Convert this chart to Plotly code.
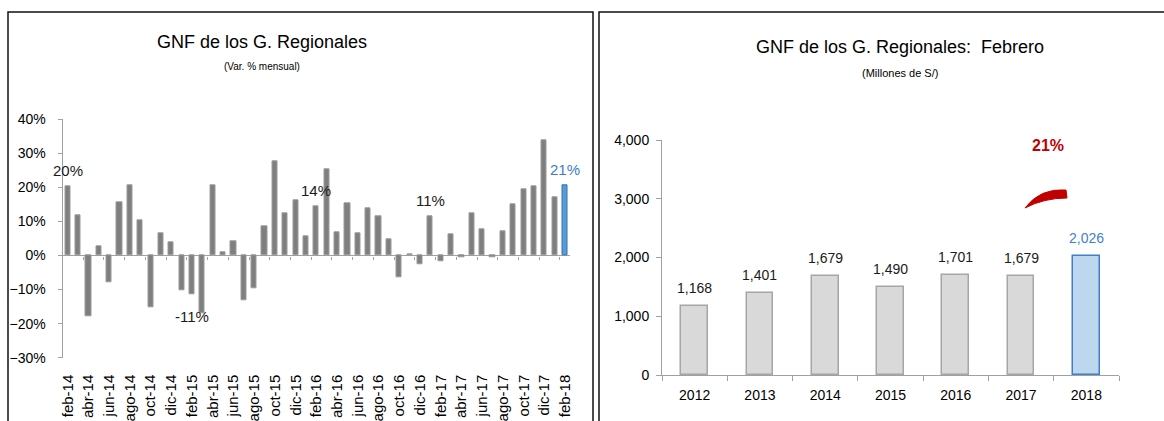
import plotly.graph_objects as go

W, H = 1164, 421

# ---------------- data ----------------
months = [
    "feb-14", "mar-14", "abr-14", "may-14", "jun-14", "jul-14", "ago-14", "sep-14", "oct-14", "nov-14", "dic-14",
    "ene-15", "feb-15", "mar-15", "abr-15", "may-15", "jun-15", "jul-15", "ago-15", "sep-15", "oct-15", "nov-15", "dic-15",
    "ene-16", "feb-16", "mar-16", "abr-16", "may-16", "jun-16", "jul-16", "ago-16", "sep-16", "oct-16", "nov-16", "dic-16",
    "ene-17", "feb-17", "mar-17", "abr-17", "may-17", "jun-17", "jul-17", "ago-17", "sep-17", "oct-17", "nov-17", "dic-17",
    "ene-18", "feb-18",
]
mom_var = [
    20.2, 11.9, -17.9, 2.6, -7.8, 15.7, 20.7, 10.3, -15.3, 6.5, 3.9,
    -10.3, -11.3, -17.0, 20.7, 0.9, 4.3, -13.0, -9.6, 8.5, 27.6, 12.4, 16.1,
    5.6, 14.4, 25.4, 6.8, 15.2, 6.5, 14.0, 11.4, 4.7, -6.5, 0.4, -2.7,
    11.4, -1.6, 6.1, -0.6, 12.4, 7.7, -0.6, 7.2, 14.9, 19.5, 20.4, 33.9,
    17.0, 20.7,
]
month_ticks = months[::2]
highlight_month = "feb-18"
label_months = ["feb-14", "feb-15", "feb-16", "ene-17", "feb-18"]
label_texts = ["20%", "-11%", "14%", "11%", "21%"]

years = ["2012", "2013", "2014", "2015", "2016", "2017", "2018"]
feb_values = [1168, 1401, 1679, 1490, 1701, 1679, 2026]
highlight_year = "2018"
growth_text = "21%"

# ---------------- styles ----------------
ARIAL = "Liberation Sans, Arial, sans-serif"
GRAY_BAR = "#7f7f7f"
BLUE_BAR = "#5b9bd5"
AXIS_GRAY = "#a0a0a0"

fig = go.Figure()

fig.add_trace(go.Bar(
    x=months, y=mom_var, xaxis="x", yaxis="y",
    width=0.5,
    marker=dict(
        color=[BLUE_BAR if m == highlight_month else GRAY_BAR for m in months],
        line=dict(color=["#2e75b6" if m == highlight_month else "#9a9a9a" for m in months], width=1),
    ),
    hoverinfo="skip", showlegend=False,
))

fig.add_trace(go.Bar(
    x=years, y=feb_values, xaxis="x2", yaxis="y2",
    width=0.41,
    marker=dict(
        color=["#bdd7ee" if y == highlight_year else "#d9d9d9" for y in years],
        line=dict(color=["#3f7fc6" if y == highlight_year else "#a6a6a6" for y in years], width=1.5),
    ),
    hoverinfo="skip", showlegend=False,
))

# empty trace so the overlay axis carrying the zero-line tick marks is drawn
fig.add_trace(go.Scatter(x=[None], y=[None], xaxis="x3", yaxis="y", mode="markers",
                         hoverinfo="skip", showlegend=False))

annotations = []
# left data labels
for m, t in zip(label_months, label_texts):
    i = months.index(m)
    v = mom_var[i]
    annotations.append(dict(
        x=i, y=v, xref="x", yref="y", text=t, showarrow=False,
        yshift=16 if v > 0 else -22,
        font=dict(family=ARIAL, size=15, color="#3b7dc8" if m == highlight_month else "#1a1a1a"),
    ))
# right data labels
for i, (yr, v) in enumerate(zip(years, feb_values)):
    annotations.append(dict(
        x=i, y=v, xref="x2", yref="y2", text=f"{v:,}", showarrow=False,
        yshift=18,
        font=dict(family=ARIAL, size=14, color="#3f7fcc" if yr == highlight_year else "#1a1a1a"),
    ))

# titles
annotations += [
    dict(x=262 / W, y=1 - 42 / H, xref="paper", yref="paper", text="GNF de los G. Regionales",
         showarrow=False, font=dict(family=ARIAL, size=18, color="#000"), xanchor="center", yanchor="middle"),
    dict(x=262 / W, y=1 - 67 / H, xref="paper", yref="paper", text="(Var. % mensual)",
         showarrow=False, font=dict(family=ARIAL, size=10, color="#000"), xanchor="center", yanchor="middle"),
    dict(x=900 / W, y=1 - 47 / H, xref="paper", yref="paper", text="GNF de los G. Regionales:  Febrero",
         showarrow=False, font=dict(family=ARIAL, size=18, color="#000"), xanchor="center", yanchor="middle"),
    dict(x=900 / W, y=1 - 73 / H, xref="paper", yref="paper", text="(Millones de S/)",
         showarrow=False, font=dict(family=ARIAL, size=11, color="#000"), xanchor="center", yanchor="middle"),
    dict(x=1048 / W, y=1 - 145 / H, xref="paper", yref="paper", text=f"<b>{growth_text}</b>",
         showarrow=False, font=dict(family=ARIAL, size=16, color="#c00000"), xanchor="center", yanchor="middle"),
]

def P(px, py):
    return f"{px / W:.5f},{1 - py / H:.5f}"

shapes = [
    # left panel frame
    dict(type="rect", xref="paper", yref="paper", x0=8 / W, x1=593 / W, y0=-0.2, y1=1 - 12 / H,
         line=dict(color="#111", width=1.5), layer="below"),
    # right panel frame
    dict(type="rect", xref="paper", yref="paper", x0=599 / W, x1=1.2, y0=-0.2, y1=1 - 12 / H,
         line=dict(color="#111", width=1.5), layer="below"),
    # red growth arc
    dict(type="path", xref="paper", yref="paper",
         path=f"M {P(1025, 208)} Q {P(1040, 188)} {P(1066, 190)} L {P(1067, 198)} Q {P(1044, 198)} {P(1025, 208)} Z",
         fillcolor="#c00000", line=dict(color="#c00000", width=1)),
]

# tick marks sitting on the zero line of the monthly chart (between label pairs)
zero_ticks = [months.index(m) + 1.5 for m in month_ticks[:-1]]

fig.update_layout(
    template="none",
    width=W, height=H, autosize=False,
    margin=dict(l=0, r=0, t=0, b=0, pad=0),
    paper_bgcolor="white", plot_bgcolor="rgba(0,0,0,0)",
    bargap=0, showlegend=False,
    annotations=annotations, shapes=shapes,
    xaxis=dict(
        domain=[62.5 / W, 570.3 / W], anchor="y", type="category", automargin=False,
        categoryorder="array", categoryarray=months, range=[-0.5, len(months) - 0.5],
        tickmode="array", tickvals=month_ticks, ticktext=month_ticks,
        tickangle=-90, ticks="outside", ticklen=10, tickcolor="rgba(0,0,0,0)",
        showline=False, showgrid=False, zeroline=False,
        tickfont=dict(family=ARIAL, size=15, color="#000"),
    ),
    xaxis3=dict(
        domain=[62.5 / W, 570.3 / W], anchor="free", overlaying="x", automargin=False,
        position=1 - 255.7 / H, type="linear", range=[-0.5, len(months) - 0.5],
        tickmode="array", tickvals=zero_ticks, showticklabels=False,
        ticks="outside", ticklen=3, tickcolor=AXIS_GRAY,
        showline=False, showgrid=False, zeroline=False,
    ),
    yaxis=dict(
        domain=[1 - 357.7 / H, 1 - 119.3 / H], anchor="x", automargin=False,
        range=[-30, 40], dtick=10, ticksuffix="%",
        showline=True, linecolor=AXIS_GRAY, linewidth=1,
        ticks="outside", ticklen=4, tickcolor=AXIS_GRAY,
        showgrid=False, zeroline=True, zerolinecolor=AXIS_GRAY, zerolinewidth=1,
        tickfont=dict(family=ARIAL, size=14, color="#000"),
        ticklabelstandoff=9,
    ),
    xaxis2=dict(
        domain=[662 / W, 1119 / W], anchor="y2", type="category", automargin=False,
        categoryorder="array", categoryarray=years, range=[-0.5, len(years) - 0.5],
        showline=True, linecolor=AXIS_GRAY, linewidth=1,
        ticks="outside", tickson="boundaries", ticklen=5, tickcolor=AXIS_GRAY,
        showgrid=False, zeroline=False,
        tickfont=dict(family=ARIAL, size=14, color="#000"),
        ticklabelstandoff=7,
    ),
    yaxis2=dict(
        domain=[1 - 375 / H, 1 - 140 / H], anchor="x2", automargin=False,
        range=[0, 4000], dtick=1000, tickformat=",d",
        showline=True, linecolor=AXIS_GRAY, linewidth=1,
        ticks="outside", ticklen=5, tickcolor=AXIS_GRAY,
        showgrid=False, zeroline=False,
        tickfont=dict(family=ARIAL, size=14, color="#000"),
        ticklabelstandoff=4,
    ),
)

fig.write_html(
    "out.html",
    config={"displayModeBar": False},
    post_script="document.body.style.margin='0px';document.body.style.padding='0px';document.body.style.overflow='hidden';",
)
